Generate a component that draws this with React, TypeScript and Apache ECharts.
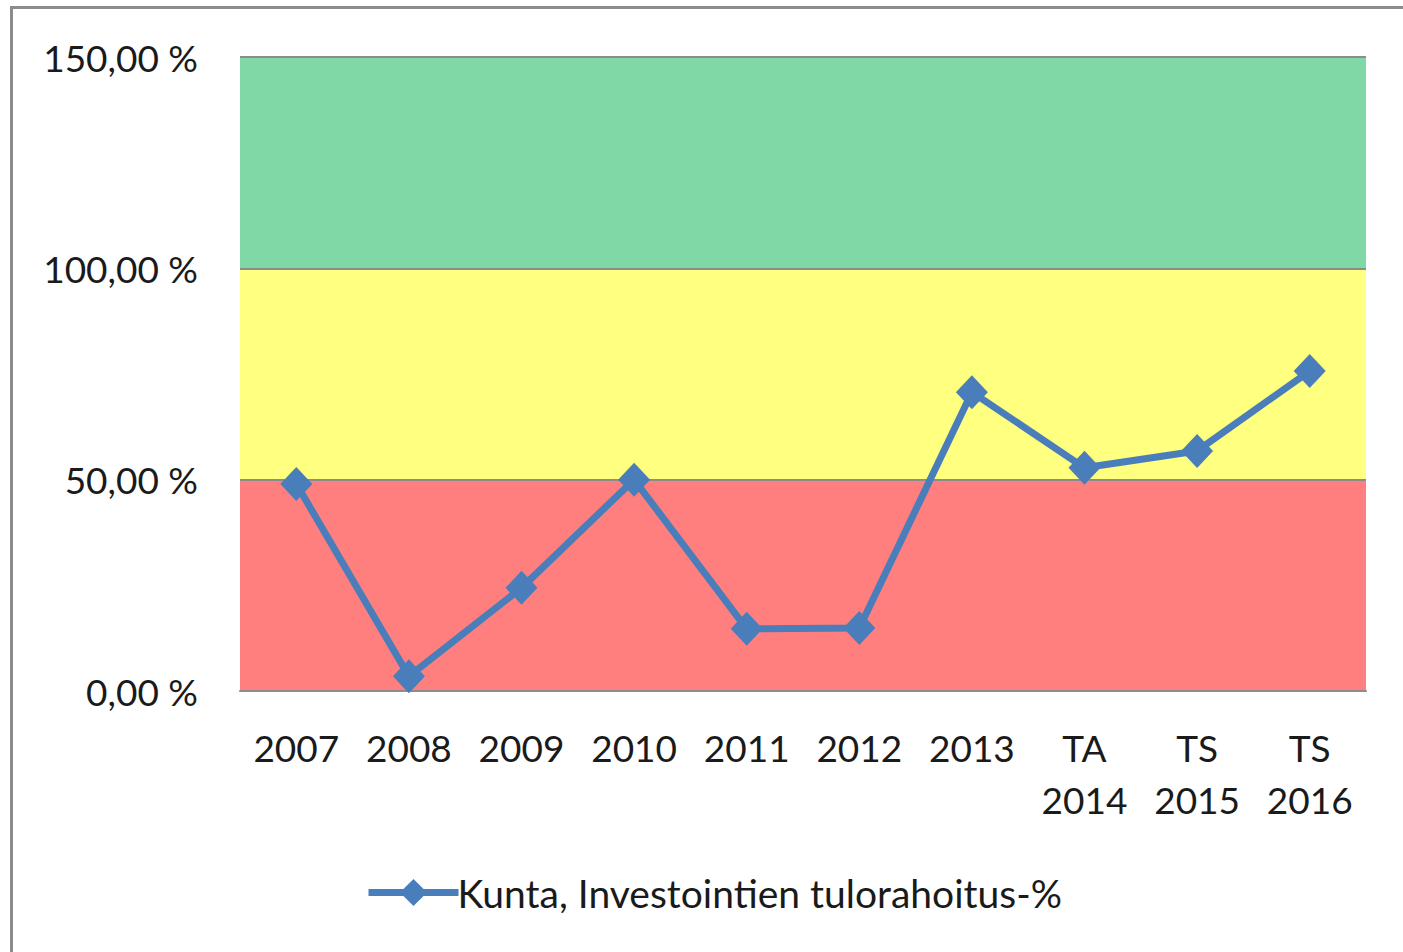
import React, { useEffect, useRef } from "react";
import * as echarts from "echarts";

const categories = ["2007", "2008", "2009", "2010", "2011", "2012", "2013", "TA\n2014", "TS\n2015", "TS\n2016"];
const values = [49.0, 3.5, 24.4, 50.0, 14.7, 14.9, 70.7, 52.8, 56.8, 75.7];
const seriesName = "Kunta, Investointien tulorahoitus-%";
const bands = [
  { from: 0, to: 50, color: "#FF7F7F" },
  { from: 50, to: 100, color: "#FFFF80" },
  { from: 100, to: 150, color: "#80D8A6" },
];
const yMin = 0;
const yMax = 150;
const yInterval = 50;

const FONT = "Lato, 'Open Sans', sans-serif";

export default function App() {
  const ref = useRef<HTMLDivElement>(null);
  useEffect(() => {
    if (!ref.current) return;
    const chart = echarts.init(ref.current, undefined, { renderer: "svg" });
    chart.setOption({
      animation: false,
      backgroundColor: "#ffffff",
      textStyle: { fontFamily: FONT },
      grid: { left: 240, top: 57, width: 1126, height: 634, containLabel: false },
      xAxis: {
        type: "category",
        data: categories,
        boundaryGap: true,
        axisLine: { show: true, lineStyle: { color: "#8C8C8C", width: 2 } },
        axisTick: { show: false },
        axisLabel: {
          color: "#1a1a1a",
          fontSize: 37,
          fontFamily: FONT,
          lineHeight: 52,
          margin: 30,
          interval: 0,
        },
        z: 3,
      },
      yAxis: {
        type: "value",
        min: yMin,
        max: yMax,
        interval: yInterval,
        axisLine: { show: false },
        axisTick: { show: false },
        splitLine: { show: true, lineStyle: { color: "#8C8C8C", width: 2 } },
        axisLabel: {
          color: "#1a1a1a",
          fontSize: 37,
          fontFamily: FONT,
          margin: 42,
          formatter: (v: number) => v.toFixed(2).replace(".", ",") + " %",
        },
        z: 3,
      },
      legend: {
        show: true,
        left: 360,
        top: 868,
        itemWidth: 90,
        itemHeight: 34,
        itemGap: 0,
        textStyle: { fontSize: 39, color: "#1a1a1a", fontFamily: FONT, padding: [0, 0, 0, -6] },
        data: [
          {
            name: seriesName,
            lineStyle: { width: 7, color: "#4A7EBB" },
            itemStyle: { color: "#4A7EBB" },
          },
        ],
      },
      graphic: [
        { type: "line", shape: { x1: 11.5, y1: 7.5, x2: 11.5, y2: 952 }, style: { stroke: "#8C8C8C", lineWidth: 3 }, z: 10 },
        { type: "line", shape: { x1: 10, y1: 7.5, x2: 1403, y2: 7.5 }, style: { stroke: "#8C8C8C", lineWidth: 3 }, z: 10 },
      ],
      series: [
        {
          type: "line",
          name: "bands",
          data: [],
          z: 1,
          silent: true,
          markArea: {
            silent: true,
            data: bands.map((b) => [
              { yAxis: b.from, itemStyle: { color: b.color, opacity: 1 } },
              { yAxis: b.to },
            ]),
          },
        },
        {
          type: "line",
          name: seriesName,
          data: values,
          z: 5,
          symbol: "diamond",
          symbolSize: [32, 34],
          lineStyle: { color: "#4A7EBB", width: 7 },
          itemStyle: { color: "#4A7EBB" },
        },
      ],
    });
    return () => chart.dispose();
  }, []);
  return (
    <div
      ref={ref}
      style={{ position: "absolute", left: 0, top: 0, width: 1403, height: 952 }}
    />
  );
}
